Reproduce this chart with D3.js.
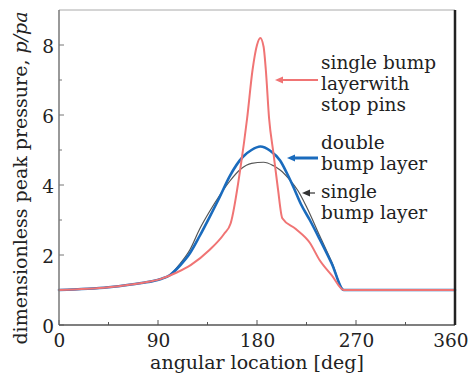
<!DOCTYPE html>
<html>
<head>
<meta charset="utf-8">
<script src="https://cdn.jsdelivr.net/npm/d3@7"></script>
<style>
  body { margin: 0; background: #fff; }
  svg text { font-family: 'DejaVu Serif', serif; fill: #222; }
  .line { fill: none; stroke-linejoin: round; stroke-linecap: round; }
</style>
</head>
<body>
<svg id="chart" width="470" height="377"></svg>
<script>
// x positions (deg) and values of each curve
const pinAngles = [0, 45, 75, 92, 107, 120, 137, 150, 156, 165, 171, 176, 180, 183, 186, 188, 191, 195, 199, 203, 215, 228, 237, 248, 259, 300, 360];
const pinValues = [1.0, 1.08, 1.2, 1.31, 1.5, 1.72, 2.15, 2.6, 2.9, 4.5, 5.9, 7.3, 8.0, 8.2, 7.95, 7.3, 5.9, 4.9, 3.9, 3.05, 2.75, 2.35, 1.85, 1.42, 1.0, 1.0, 1.0];

const doubleAngles = [0, 45, 75, 92, 101, 110, 119, 128, 137, 146, 155, 167, 175, 183, 192, 201, 207, 213, 220, 228, 237, 248, 259, 300, 360];
const doubleValues = [1.0, 1.08, 1.2, 1.31, 1.43, 1.7, 2.05, 2.55, 3.09, 3.65, 4.24, 4.8, 5.0, 5.1, 4.98, 4.7, 4.35, 3.95, 3.45, 3.0, 2.45, 1.75, 1.0, 1.0, 1.0];

const singleAngles = [0, 45, 75, 92, 101, 110, 119, 128, 137, 146, 155, 165, 175, 186, 195, 201, 210, 217, 225, 237, 248, 259, 300, 360];
const singleValues = [1.0, 1.08, 1.2, 1.31, 1.43, 1.75, 2.15, 2.75, 3.25, 3.7, 4.1, 4.45, 4.62, 4.65, 4.55, 4.43, 4.14, 3.85, 3.38, 2.55, 1.8, 1.0, 1.0, 1.0];

const xTicks = [0, 90, 180, 270, 360];
const xMinorTicks = [45, 135, 225, 315];
const yTicks = [0, 2, 4, 6, 8];
const yMinorTicks = [1, 3, 5, 7];

const svg = d3.select('#chart'),
  margin = {top: 10, right: 15, bottom: 52, left: 59},
  width = +svg.attr('width') - margin.left - margin.right,
  height = +svg.attr('height') - margin.top - margin.bottom,
  g = svg.append('g').attr('transform', 'translate(' + margin.left + ',' + margin.top + ')');

const x = d3.scaleLinear().domain([0, 360]).range([0, width]),
  y = d3.scaleLinear().domain([0, 9]).range([height, 0]);

const line = d3.line()
  .curve(d3.curveMonotoneX)
  .x(function (d) { return x(d[0]); })
  .y(function (d) { return y(d[1]); });

function pairs(a, v) {
  return a.map(function (d, i) { return [d, v[i]]; });
}

// axes: labels only, ticks drawn inside the frame
const xAxis = g.append('g')
  .attr('transform', 'translate(0,' + height + ')')
  .call(d3.axisBottom(x).tickValues(xTicks).tickSize(0).tickPadding(9));
xAxis.select('.domain').remove();
xAxis.selectAll('text').style('font-size', '18.5px').attr('font-family', null);
// last label sits against the page edge
xAxis.selectAll('text').filter(function (d) { return d === 360; })
  .attr('text-anchor', 'end').attr('x', 13);

const yAxis = g.append('g')
  .call(d3.axisLeft(y).tickValues(yTicks).tickSize(0).tickPadding(5));
yAxis.select('.domain').remove();
yAxis.selectAll('text').style('font-size', '18.5px').attr('dy', '0.42em').attr('font-family', null);

g.selectAll('.xtick')
  .data(xTicks.concat(xMinorTicks))
  .enter().append('line')
  .attr('x1', function (d) { return x(d); })
  .attr('x2', function (d) { return x(d); })
  .attr('y1', height)
  .attr('y2', function (d) { return xTicks.indexOf(d) >= 0 ? height - 5 : height - 3; })
  .attr('stroke', '#555');

g.selectAll('.ytick')
  .data(yTicks.concat(yMinorTicks))
  .enter().append('line')
  .attr('x1', 0)
  .attr('x2', function (d) { return yTicks.indexOf(d) >= 0 ? 5 : 3; })
  .attr('y1', function (d) { return y(d); })
  .attr('y2', function (d) { return y(d); })
  .attr('stroke', '#777');

// curves
g.append('path')
  .attr('class', 'line')
  .attr('d', line(pairs(singleAngles, singleValues)))
  .style('stroke', '#555')
  .style('stroke-width', 1.2);

g.append('path')
  .attr('class', 'line')
  .attr('d', line(pairs(doubleAngles, doubleValues)))
  .style('stroke', '#1a6bbd')
  .style('stroke-width', 2.6);

g.append('path')
  .attr('class', 'line')
  .attr('d', line(pairs(pinAngles, pinValues)))
  .style('stroke', '#f07474')
  .style('stroke-width', 2);

// frame
g.append('line').attr('x1', 0).attr('x2', width).attr('y1', 0).attr('y2', 0)
  .attr('stroke', '#aaa').attr('stroke-width', 1);
g.append('line').attr('x1', 0).attr('x2', 0).attr('y1', 0).attr('y2', height)
  .attr('stroke', '#777').attr('stroke-width', 1.5);
g.append('line').attr('x1', 0).attr('x2', width).attr('y1', height).attr('y2', height)
  .attr('stroke', '#555').attr('stroke-width', 1.5);
g.append('line').attr('x1', width).attr('x2', width).attr('y1', 0).attr('y2', height)
  .attr('stroke', '#222').attr('stroke-width', 2.5);

// axis titles
svg.append('text')
  .attr('x', margin.left + width / 2)
  .attr('y', 369)
  .attr('text-anchor', 'middle')
  .style('font-size', '19px')
  .text('angular location [deg]');

const yTitle = svg.append('text')
  .attr('transform', 'translate(27,' + 178 + ') rotate(-90)')
  .attr('text-anchor', 'middle')
  .style('font-size', '19px');
yTitle.append('tspan').text('dimensionless peak pressure, ');
yTitle.append('tspan').style('font-style', 'italic').text('p/pa');

// annotations with arrows
const notes = [
  {lines: ['single bump', 'layerwith', 'stop pins'], top: 69, arrowY: 80, from: 318, to: 275, color: '#f07474', w: 2},
  {lines: ['double', 'bump layer'], top: 149, arrowY: 158, from: 318, to: 287, color: '#1a6bbd', w: 3},
  {lines: ['single', 'bump layer'], top: 198, arrowY: 193, from: 315, to: 302, color: '#333', w: 1.2}
];

notes.forEach(function (n) {
  const t = svg.append('text').style('font-size', '18.5px');
  n.lines.forEach(function (s, i) {
    t.append('tspan').attr('x', 321).attr('y', n.top + i * 21).text(s);
  });
  svg.append('line')
    .attr('x1', n.from).attr('x2', n.to + 6)
    .attr('y1', n.arrowY).attr('y2', n.arrowY)
    .attr('stroke', n.color).attr('stroke-width', n.w);
  svg.append('path')
    .attr('d', d3.line()([[n.to, n.arrowY], [n.to + 8, n.arrowY - 3.5], [n.to + 8, n.arrowY + 3.5]]) + 'Z')
    .attr('fill', n.color);
});
</script>
</body>
</html>
